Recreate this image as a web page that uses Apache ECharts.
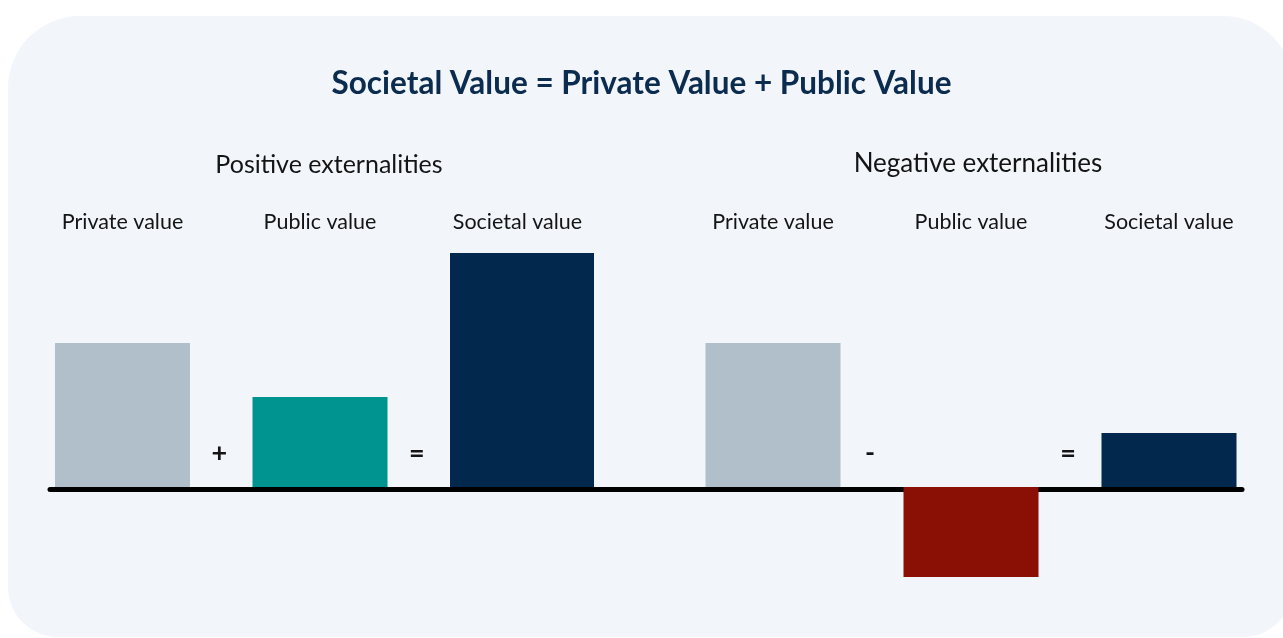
<!DOCTYPE html>
<html>
<head>
<meta charset="utf-8">
<script src="https://cdn.jsdelivr.net/npm/echarts@6/dist/echarts.min.js"></script>
<style>
  html, body { margin: 0; padding: 0; background: #ffffff; }
  #chart { width: 1283px; height: 638px; }
</style>
</head>
<body>
<div id="chart"></div>
<script>
// Bar categories shared by both panels
const categories = ['Private value', 'Public value', 'Societal value'];
// Panel headings
const groupTitles = ['Positive externalities', 'Negative externalities'];
// Values for each panel (private, public, societal)
const positiveValues = [8, 5, 13];
const negativeValues = [8, -5, 3];
// Operators shown between the bars of each panel
const positiveOperators = ['+', '='];
const negativeOperators = ['-', '='];
// Value axis range
const valueMin = -6;
const valueMax = 14;

const FONT = 'Lato, "Open Sans", sans-serif';
const COLORS = {
  private: '#b1bfcb',
  publicPos: '#009490',
  publicNeg: '#8a0f05',
  societal: '#02294d',
  title: '#0b2c4e',
  text: '#141414',
  panel: '#f2f5fa'
};

const chart = echarts.init(document.getElementById('chart'), null, { renderer: 'canvas' });

const GRID_TOP = 235;
const GRID_BOTTOM = 43;

function itemColor(i, v) {
  if (i === 0) return COLORS.private;
  if (i === 2) return COLORS.societal;
  return v < 0 ? COLORS.publicNeg : COLORS.publicPos;
}

function categoryAxis(gridIndex) {
  return {
    type: 'category',
    gridIndex: gridIndex,
    data: categories,
    position: 'top',
    axisLine: { show: false, onZero: false },
    axisTick: { show: false },
    axisLabel: { fontFamily: FONT, fontSize: 21.5, color: COLORS.text, margin: 2 }
  };
}

function valueAxis(gridIndex) {
  return {
    type: 'value',
    gridIndex: gridIndex,
    min: valueMin,
    max: valueMax,
    show: false
  };
}

const option = {
  animation: false,
  backgroundColor: '#ffffff',
  title: [
    {
      text: 'Societal Value = Private Value + Public Value',
      left: 'center',
      top: 63,
      textStyle: { fontFamily: FONT, fontSize: 31.5, fontWeight: 'bold', color: COLORS.title }
    },
    {
      text: groupTitles[0],
      left: 324,
      textAlign: 'center',
      top: 147,
      textStyle: { fontFamily: FONT, fontSize: 25, fontWeight: 'normal', color: COLORS.text }
    },
    {
      text: groupTitles[1],
      left: 973,
      textAlign: 'center',
      top: 146,
      textStyle: { fontFamily: FONT, fontSize: 26, fontWeight: 'normal', color: COLORS.text }
    }
  ],
  grid: [
    { left: 23.75, width: 592.5, top: GRID_TOP, bottom: GRID_BOTTOM },
    { left: 674, width: 594, top: GRID_TOP, bottom: GRID_BOTTOM },
    // baseline across both panels, drawn a touch below zero
    { left: 50, right: 41, top: GRID_TOP + 2, bottom: GRID_BOTTOM - 2 }
  ],
  xAxis: [
    categoryAxis(0),
    categoryAxis(1),
    {
      type: 'category',
      gridIndex: 2,
      data: [''],
      axisLine: { show: true, onZero: true, lineStyle: { color: '#000000', width: 5 } },
      axisTick: { show: false },
      axisLabel: { show: false }
    }
  ],
  yAxis: [valueAxis(0), valueAxis(1), valueAxis(2)],
  series: [
    {
      name: 'Positive externalities (societal)',
      type: 'bar',
      xAxisIndex: 0,
      yAxisIndex: 0,
      barWidth: 144,
      barGap: '-100%',
      data: positiveValues.map((v, i) => i === 2 ? { value: v, itemStyle: { color: itemColor(i, v) } } : '-')
    },
    {
      name: 'Positive externalities',
      type: 'bar',
      xAxisIndex: 0,
      yAxisIndex: 0,
      barWidth: 135,
      barGap: '-100%',
      data: positiveValues.map((v, i) => i !== 2 ? { value: v, itemStyle: { color: itemColor(i, v) } } : '-')
    },
    {
      name: 'Negative externalities',
      type: 'bar',
      xAxisIndex: 1,
      yAxisIndex: 1,
      barWidth: 135,
      data: negativeValues.map((v, i) => ({ value: v, itemStyle: { color: itemColor(i, v) } }))
    },
    {
      name: 'Baseline',
      type: 'bar',
      xAxisIndex: 2,
      yAxisIndex: 2,
      data: ['-'],
      silent: true
    }
  ]
};

chart.setOption(option);

// Panel background and the operators placed midway between neighbouring bars
function decorate() {
  const elements = [
    {
      type: 'rect',
      z: -10,
      silent: true,
      shape: { x: 8, y: 16, width: 1285, height: 621, r: [72, 70, 50, 50] },
      style: { fill: COLORS.panel }
    }
  ];
  const OP_Y = 453;
  [[0, positiveOperators], [1, negativeOperators]].forEach(([gridIndex, ops]) => {
    ops.forEach((op, i) => {
      const a = chart.convertToPixel({ xAxisIndex: gridIndex }, categories[i]);
      const b = chart.convertToPixel({ xAxisIndex: gridIndex }, categories[i + 1]);
      elements.push({
        type: 'text',
        silent: true,
        x: (a + b) / 2 - 2,
        y: OP_Y,
        style: {
          text: op,
          fill: COLORS.text,
          font: 'bold 27px ' + FONT,
          align: 'center',
          verticalAlign: 'middle'
        }
      });
    });
  });
  chart.setOption({ graphic: { elements: elements } });
}
decorate();
</script>
</body>
</html>
